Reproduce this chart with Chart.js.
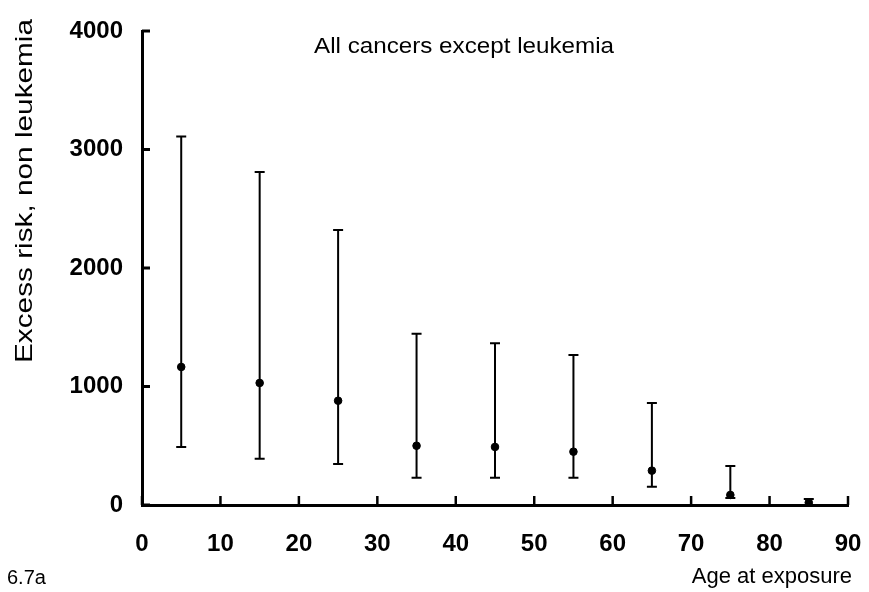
<!DOCTYPE html>
<html>
<head>
<meta charset="utf-8">
<script src="https://cdn.jsdelivr.net/npm/chart.js@4.4.1/dist/chart.umd.min.js"></script>
<style>
  html, body { margin: 0; padding: 0; background: #ffffff; }
  #wrap { width: 869px; height: 592px; position: relative; }
</style>
</head>
<body>
<div id="wrap"><canvas id="riskChart"></canvas></div>
<script>
// values
const ages = [5, 15, 25, 35, 45, 55, 65, 75, 85];
const excessRisk = [1165, 1030, 880, 500, 490, 450, 290, 85, 20];
const lowerBound = [490, 390, 345, 230, 230, 230, 155, 60, 0];
const upperBound = [3110, 2810, 2320, 1445, 1365, 1265, 860, 330, 50];
const xTicks = [0, 10, 20, 30, 40, 50, 60, 70, 80, 90];
const yTicks = [0, 1000, 2000, 3000, 4000];

const FONT = "'Liberation Sans', Arial, sans-serif";

// error bars, drawn under the points
const errorBars = {
  id: 'errorBars',
  beforeDatasetsDraw(chart) {
    const ctx = chart.ctx;
    const xs = chart.scales.x, ys = chart.scales.y;
    ctx.save();
    ctx.strokeStyle = '#000';
    ctx.lineWidth = 2;
    ages.forEach((a, i) => {
      const px = xs.getPixelForValue(a);
      const top = ys.getPixelForValue(upperBound[i]);
      const bot = ys.getPixelForValue(lowerBound[i]);
      ctx.beginPath();
      ctx.moveTo(px, top); ctx.lineTo(px, bot);
      ctx.moveTo(px - 5, top); ctx.lineTo(px + 5, top);
      ctx.moveTo(px - 5, bot); ctx.lineTo(px + 5, bot);
      ctx.stroke();
    });
    ctx.restore();
  }
};

// inward tick marks + free text
const decorations = {
  id: 'decorations',
  afterDraw(chart) {
    const ctx = chart.ctx;
    const xs = chart.scales.x, ys = chart.scales.y;
    const area = chart.chartArea;
    ctx.save();
    ctx.strokeStyle = '#000';
    ctx.lineWidth = 3;
    yTicks.forEach(v => {
      const py = ys.getPixelForValue(v);
      ctx.beginPath();
      ctx.moveTo(area.left, py); ctx.lineTo(area.left + 8, py);
      ctx.stroke();
    });
    ctx.lineWidth = 2.5;
    xTicks.forEach(v => {
      const px = xs.getPixelForValue(v);
      ctx.beginPath();
      ctx.moveTo(px, area.bottom); ctx.lineTo(px, area.bottom - 9);
      ctx.stroke();
    });

    ctx.fillStyle = '#000';
    // title inside the plot
    ctx.font = '22px ' + FONT;
    ctx.textAlign = 'center';
    ctx.textBaseline = 'middle';
    ctx.save();
    ctx.translate(464, 47);
    ctx.scale(1.1, 1);
    ctx.fillText('All cancers except leukemia', 0, 0);
    ctx.restore();

    // y axis title
    ctx.save();
    ctx.translate(25, 191);
    ctx.rotate(-Math.PI / 2);
    ctx.scale(1.24, 1);
    ctx.font = '24px ' + FONT;
    ctx.fillText('Excess risk, non leukemia', 0, 0);
    ctx.restore();

    // x axis title and figure number
    ctx.font = '22px ' + FONT;
    ctx.textAlign = 'right';
    ctx.fillText('Age at exposure', 852, 577);
    ctx.font = '20px ' + FONT;
    ctx.textAlign = 'left';
    ctx.fillText('6.7a', 7, 578);
    ctx.restore();
  }
};

new Chart(document.getElementById('riskChart'), {
  type: 'scatter',
  data: {
    datasets: [{
      label: 'Excess risk',
      data: ages.map((a, i) => ({ x: a, y: excessRisk[i] })),
      backgroundColor: '#000',
      borderColor: '#000',
      pointRadius: 3.8,
      pointHoverRadius: 3.8
    }]
  },
  options: {
    responsive: true,
    maintainAspectRatio: false,
    animation: false,
    layout: { padding: { left: 0, right: 21, top: 31, bottom: 0 } },
    scales: {
      x: {
        type: 'linear',
        min: 0,
        max: 90,
        afterBuildTicks: axis => { axis.ticks = xTicks.map(v => ({ value: v })); },
        afterFit: axis => { axis.height = 87; axis.paddingLeft = 0; axis.paddingRight = 0; },
        grid: { display: false, drawTicks: false },
        border: { display: true, color: '#000', width: 3 },
        ticks: { color: '#000', padding: 25, font: { family: FONT, size: 24, weight: 'bold' } }
      },
      y: {
        min: 0,
        max: 4000,
        afterBuildTicks: axis => { axis.ticks = yTicks.map(v => ({ value: v })); },
        afterFit: axis => { axis.width = 142; axis.paddingTop = 0; axis.paddingBottom = 0; },
        grid: { display: false, drawTicks: false },
        border: { display: true, color: '#000', width: 3 },
        ticks: {
          color: '#000',
          padding: 19,
          font: { family: FONT, size: 24, weight: 'bold' },
          callback: v => String(v)
        }
      }
    },
    plugins: {
      legend: { display: false },
      tooltip: { enabled: false }
    }
  },
  plugins: [errorBars, decorations]
});
</script>
</body>
</html>
